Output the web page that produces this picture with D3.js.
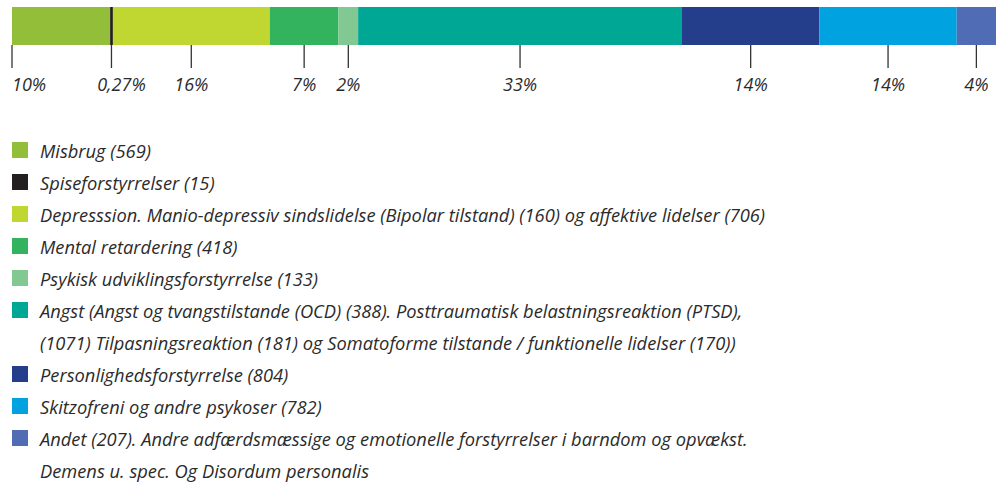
<!DOCTYPE html>
<html>
<head>
<meta charset="utf-8">
<script src="https://cdn.jsdelivr.net/npm/d3@7"></script>
<style>
  html, body { margin: 0; padding: 0; background: #fff; }
  svg { display: block; }
  text { font-family: "Open Sans", sans-serif; font-style: italic; fill: #2b2b2b; }
</style>
</head>
<body>
<svg id="chart" width="1000" height="484"></svg>
<script>
// ---- data ----
const categories = ["Misbrug", "Spiseforstyrrelser", "Depression", "Mental retardering",
  "Psykisk udviklingsforstyrrelse", "Angst", "Personlighedsforstyrrelse",
  "Skitzofreni og andre psykoser", "Andet"];
const percentages = [10, 0.27, 16, 7, 2, 33, 14, 14, 4];
const percentLabels = ["10%", "0,27%", "16%", "7%", "2%", "33%", "14%", "14%", "4%"];
const colors = ["#93be3a", "#231f20", "#bfd730", "#34b35f", "#82c893", "#00a795", "#243e8b", "#00a3df", "#4f6cb4"];
const legendLines = [
  ["Misbrug (569)"],
  ["Spiseforstyrrelser (15)"],
  ["Depresssion. Manio-depressiv sindslidelse (Bipolar tilstand) (160) og affektive lidelser (706)"],
  ["Mental retardering (418)"],
  ["Psykisk udviklingsforstyrrelse (133)"],
  ["Angst (Angst og tvangstilstande (OCD) (388). Posttraumatisk belastningsreaktion (PTSD),",
   "(1071) Tilpasningsreaktion (181) og Somatoforme tilstande / funktionelle lidelser (170))"],
  ["Personlighedsforstyrrelse (804)"],
  ["Skitzofreni og andre psykoser (782)"],
  ["Andet (207). Andre adfærdsmæssige og emotionelle forstyrrelser i barndom og opvækst.",
   "Demens u. spec. Og Disordum personalis"]
];

// ---- layout ----
const svg = d3.select("#chart");
const barLeft = 12, barRight = 996, barTop = 7, barH = 38;
const total = d3.sum(percentages);
const x = d3.scaleLinear().domain([0, total]).range([barLeft, barRight]);

const segs = [];
let acc = 0;
percentages.forEach((v, i) => { segs.push({ i, start: acc, end: acc + v }); acc += v; });

svg.append("g").selectAll("rect").data(segs).join("rect")
  .attr("x", d => x(d.start))
  .attr("y", barTop)
  .attr("width", d => Math.max(3, x(d.end) - x(d.start)))
  .attr("height", barH)
  .attr("fill", d => colors[d.i]);

// ticks: first at segment start, the rest at segment middles
const tickPos = d => d.i === 0 ? x(d.start) : x((d.start + d.end) / 2);
const tg = svg.append("g");
tg.selectAll("line").data(segs).join("line")
  .attr("x1", tickPos).attr("x2", tickPos)
  .attr("y1", barTop + barH).attr("y2", 68)
  .attr("stroke", "#333").attr("stroke-width", 1.3);
tg.selectAll("text").data(segs).join("text")
  .attr("x", d => tickPos(d) + (d.i === 1 ? 10 : 0))
  .attr("y", 91)
  .attr("text-anchor", d => d.i === 0 ? "start" : "middle")
  .attr("font-size", 18)
  .text(d => percentLabels[d.i]);

// legend
const lineH = 32, firstBase = 158;
let row = 0;
const lg = svg.append("g");
legendLines.forEach((lines, i) => {
  const base = firstBase + row * lineH;
  lg.append("rect").attr("x", 12).attr("y", base - 16).attr("width", 16).attr("height", 16)
    .attr("fill", colors[i]);
  lines.forEach((t, j) => {
    lg.append("text").attr("x", 40).attr("y", base + j * lineH)
      .attr("font-size", 18.3).text(t);
  });
  row += lines.length;
});
</script>
</body>
</html>
